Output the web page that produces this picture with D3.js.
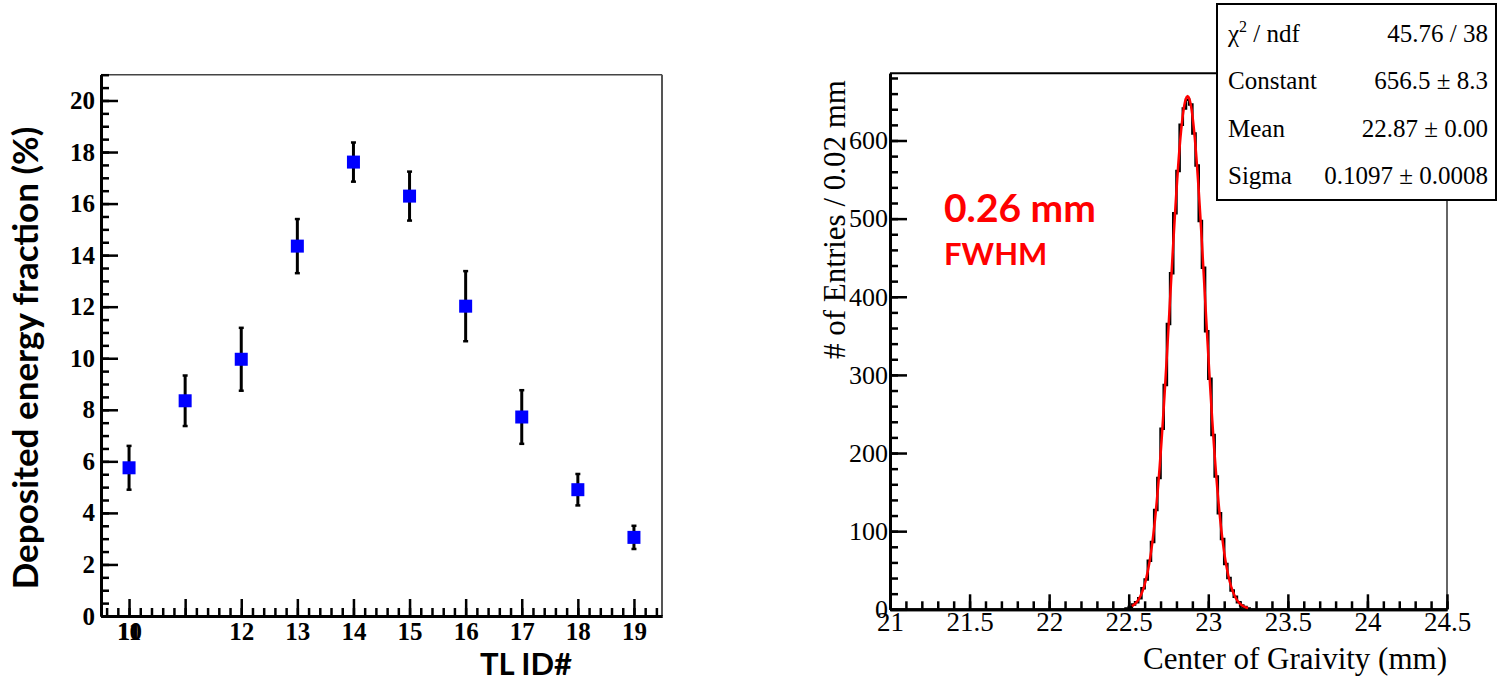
<!DOCTYPE html>
<html>
<head>
<meta charset="utf-8">
<script src="https://cdn.jsdelivr.net/npm/d3@7"></script>
<style>
  body { margin: 0; background: #fff; }
  .serif { font-family: "Liberation Serif", "Times New Roman", serif; }
  .sans { font-family: Lato, "Open Sans", sans-serif; font-weight: 700; }
</style>
</head>
<body>
<svg id="chart" width="1501" height="684"></svg>
<script>
/**
 * Left: deposited energy per TL, right: centre of gravity histogram
 */

// left panel data
var tlIds = [10, 11, 12, 13, 14, 15, 16, 17, 18, 19];
var energyFrac = [5.75, 8.35, 9.96, 14.35, 17.61, 16.29, 12.02, 7.72, 4.90, 3.05];
var energyErr = [0.85, 0.98, 1.22, 1.05, 0.76, 0.95, 1.36, 1.04, 0.61, 0.45];
var leftYTicks = [0, 2, 4, 6, 8, 10, 12, 14, 16, 18, 20];
var leftXLabelPos = [10, 10, 12, 13, 14, 15, 16, 17, 18, 19];
var leftXLabels = ['10', '11', '12', '13', '14', '15', '16', '17', '18', '19'];

// right panel data (bins of 0.02 mm)
var histLow = 22.48;
var binWidth = 0.02;
var histCounts = [1, 3, 6, 9, 14, 27, 38, 62, 86, 127, 168, 231, 287, 365, 430,
                  507, 561, 620, 641, 652, 646, 609, 568, 497, 437, 356, 295, 223,
                  170, 123, 90, 58, 40, 24, 16, 9, 5, 3, 1];
var fitConstant = 656.5;
var fitMean = 22.87;
var fitSigma = 0.1097;
var rightYTicks = [0, 100, 200, 300, 400, 500, 600];
var rightXTicks = [21, 21.5, 22, 22.5, 23, 23.5, 24, 24.5];
var statLabels = ['/ ndf', 'Constant', 'Mean', 'Sigma'];
var statValues = ['45.76 / 38', '656.5 \u00b1 8.3', '22.87 \u00b1 0.00', '0.1097 \u00b1 0.0008'];

var svg = d3.select('#chart');

function styleAxis(g, width, cls) {
  g.selectAll('line').attr('stroke', '#000').attr('stroke-width', width);
  g.select('.domain').attr('stroke', '#000').attr('stroke-width', 3);
  g.selectAll('text').attr('class', cls).attr('fill', '#000');
}

// ---------- left panel ----------
var xL = d3.scaleLinear().domain([9.5, 19.5]).range([101, 662]);
var yL = d3.scaleLinear().domain([0, 21]).range([616, 74.7]);

svg.append('line').attr('x1', 101).attr('x2', 662).attr('y1', yL(21)).attr('y2', yL(21))
    .attr('stroke', '#444').attr('stroke-width', 1.5);
svg.append('line').attr('x1', 662).attr('x2', 662).attr('y1', yL(21)).attr('y2', yL(0))
    .attr('stroke', '#555').attr('stroke-width', 2);

svg.append('g').attr('transform', 'translate(101,0)')
    .call(d3.axisLeft(yL).tickValues(d3.range(0, 21.01, 0.5)).tickSize(-8).tickSizeOuter(0).tickFormat(''))
    .call(styleAxis, 2.5, 'serif');
svg.append('g').attr('transform', 'translate(101,0)')
    .call(d3.axisLeft(yL).tickValues(leftYTicks).tickSize(-17).tickSizeOuter(0).tickPadding(6).tickFormat(d3.format('d')))
    .call(styleAxis, 2.5, 'serif')
    .selectAll('text').attr('font-size', 25).attr('font-weight', 700);

svg.append('g').attr('transform', 'translate(0,' + yL(0) + ')')
    .call(d3.axisBottom(xL).tickValues(d3.range(9.6, 19.5, 0.2)).tickSize(-8).tickSizeOuter(0).tickFormat(''))
    .call(styleAxis, 2.5, 'serif');
svg.append('g').attr('transform', 'translate(0,' + yL(0) + ')')
    .call(d3.axisBottom(xL).tickValues(tlIds).tickSize(-17).tickSizeOuter(0).tickFormat(''))
    .call(styleAxis, 2.5, 'serif');
var xLab = svg.append('g').attr('transform', 'translate(0,' + yL(0) + ')')
    .call(d3.axisBottom(xL).tickValues(leftXLabelPos).tickSize(0).tickPadding(6)
      .tickFormat(function(d, i) { return leftXLabels[i]; }));
xLab.select('.domain').remove();
xLab.selectAll('text').attr('class', 'serif').attr('font-size', 25).attr('font-weight', 700).attr('fill', '#000');

// error bars and markers
var pts = svg.append('g').selectAll('g.pt').data(tlIds).enter().append('g');
pts.append('line')
    .attr('x1', function(d) { return xL(d); }).attr('x2', function(d) { return xL(d); })
    .attr('y1', function(d, i) { return yL(energyFrac[i] - energyErr[i]); })
    .attr('y2', function(d, i) { return yL(energyFrac[i] + energyErr[i]); })
    .attr('stroke', '#000').attr('stroke-width', 3);
[-1, 1].forEach(function(s) {
  pts.append('line')
      .attr('x1', function(d) { return xL(d) - 2.5; }).attr('x2', function(d) { return xL(d) + 2.5; })
      .attr('y1', function(d, i) { return yL(energyFrac[i] + s * energyErr[i]); })
      .attr('y2', function(d, i) { return yL(energyFrac[i] + s * energyErr[i]); })
      .attr('stroke', '#000').attr('stroke-width', 2.5);
});
pts.append('rect')
    .attr('x', function(d) { return xL(d) - 6.5; })
    .attr('y', function(d, i) { return yL(energyFrac[i]) - 6.5; })
    .attr('width', 13).attr('height', 13)
    .attr('fill', '#0000ff');

svg.append('text').attr('class', 'sans')
    .attr('transform', 'translate(38,358) rotate(-90)')
    .attr('text-anchor', 'middle').attr('font-size', 35)
    .text('Deposited energy fraction (%)');
svg.append('text').attr('class', 'sans')
    .attr('x', 572).attr('y', 675).attr('text-anchor', 'end').attr('font-size', 31)
    .text('TL ID#');

// ---------- right panel ----------
var xR = d3.scaleLinear().domain([21, 24.5]).range([890, 1447]);
var yR = d3.scaleLinear().domain([0, 686]).range([609.3, 73.3]);

svg.append('line').attr('x1', 890).attr('x2', 1447).attr('y1', yR(686)).attr('y2', yR(686))
    .attr('stroke', '#000').attr('stroke-width', 2);
svg.append('line').attr('x1', 1447).attr('x2', 1447).attr('y1', yR(686)).attr('y2', yR(0))
    .attr('stroke', '#666').attr('stroke-width', 2);

svg.append('g').attr('transform', 'translate(890,0)')
    .call(d3.axisLeft(yR).tickValues(d3.range(0, 686, 20)).tickSize(-8).tickSizeOuter(0).tickFormat(''))
    .call(styleAxis, 2.5, 'serif');
svg.append('g').attr('transform', 'translate(890,0)')
    .call(d3.axisLeft(yR).tickValues(rightYTicks).tickSize(-17).tickSizeOuter(0).tickPadding(2).tickFormat(d3.format('d')))
    .call(styleAxis, 2.5, 'serif')
    .selectAll('text').attr('font-size', 26);

svg.append('g').attr('transform', 'translate(0,' + yR(0) + ')')
    .call(d3.axisBottom(xR).tickValues(d3.range(21, 24.51, 0.1)).tickSize(-8).tickSizeOuter(0).tickFormat(''))
    .call(styleAxis, 2.5, 'serif');
svg.append('g').attr('transform', 'translate(0,' + yR(0) + ')')
    .call(d3.axisBottom(xR).tickValues(rightXTicks).tickSize(-15).tickSizeOuter(0).tickPadding(3).tickFormat(d3.format('')))
    .call(styleAxis, 2.5, 'serif')
    .selectAll('text').attr('font-size', 27);

// histogram outline
var steps = [[histLow, 0]];
histCounts.forEach(function(c, i) {
  steps.push([histLow + i * binWidth, c]);
  steps.push([histLow + (i + 1) * binWidth, c]);
});
steps.push([histLow + histCounts.length * binWidth, 0]);
svg.append('path')
    .attr('d', d3.line().x(function(d) { return xR(d[0]); }).y(function(d) { return yR(d[1]); })(steps))
    .attr('fill', 'none').attr('stroke', '#000').attr('stroke-width', 2.5);

// gaussian fit
var fitX = d3.range(22.52, 23.25, 0.005);
svg.append('path')
    .attr('d', d3.line()
      .x(function(d) { return xR(d); })
      .y(function(d) { return yR(fitConstant * Math.exp(-0.5 * Math.pow((d - fitMean) / fitSigma, 2))); })(fitX))
    .attr('fill', 'none').attr('stroke', '#ff0000').attr('stroke-width', 2.5);

svg.append('text').attr('class', 'serif')
    .attr('transform', 'translate(845,80) rotate(-90)')
    .attr('text-anchor', 'end').attr('font-size', 31)
    .text('# of Entries / 0.02 mm');
svg.append('text').attr('class', 'serif')
    .attr('x', 1447).attr('y', 669).attr('text-anchor', 'end').attr('font-size', 31)
    .text('Center of Graivity (mm)');

svg.append('text').attr('class', 'sans')
    .attr('x', 944).attr('y', 222).attr('font-size', 39).attr('fill', '#ff0000')
    .text('0.26 mm');
svg.append('text').attr('class', 'sans')
    .attr('x', 944).attr('y', 265).attr('font-size', 31).attr('fill', '#ff0000')
    .text('FWHM');

// stats box
svg.append('rect').attr('x', 1217).attr('y', 4).attr('width', 279).attr('height', 196)
    .attr('fill', '#fff').attr('stroke', '#000').attr('stroke-width', 2);
var statY = d3.scalePoint().domain(d3.range(statLabels.length)).range([42, 184]);
var lab = svg.append('g').selectAll('text').data(statLabels).enter().append('text')
    .attr('class', 'serif').attr('font-size', 25)
    .attr('x', 1228).attr('y', function(d, i) { return statY(i); });
lab.each(function(d, i) {
  var t = d3.select(this);
  if (i === 0) {
    t.append('tspan').text('\u03c7');
    t.append('tspan').attr('font-size', 16).attr('dy', -10).text('2');
    t.append('tspan').attr('dy', 10).text(' ' + d);
  } else {
    t.text(d);
  }
});
svg.append('g').selectAll('text').data(statValues).enter().append('text')
    .attr('class', 'serif').attr('font-size', 25).attr('text-anchor', 'end')
    .attr('x', 1488).attr('y', function(d, i) { return statY(i); })
    .text(function(d) { return d; });
</script>
</body>
</html>
